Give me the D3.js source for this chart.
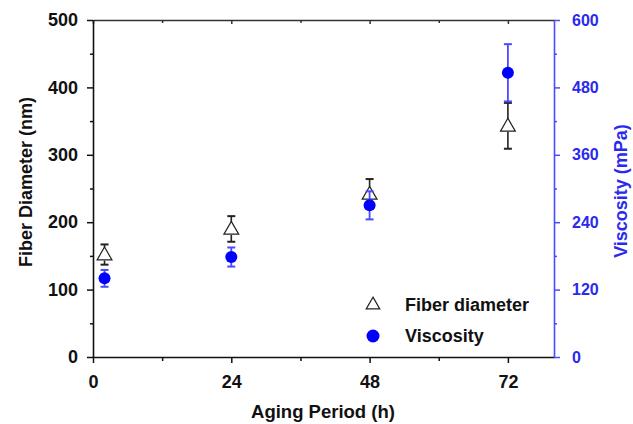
<!DOCTYPE html>
<html>
<head>
<meta charset="utf-8">
<script src="https://cdn.jsdelivr.net/npm/d3@7"></script>
<style>
  body { margin: 0; background: #fff; }
  svg text { font-family: "Liberation Sans", Arial, sans-serif; font-weight: bold; }
</style>
</head>
<body>
<div id="chart"></div>
<script>
// values
const hours = [2, 24, 48, 72];
const diameter = [152, 190, 242, 343];
const diameterErr = [15, 19, 22, 34];
const viscosity = [140, 178, 270, 506];
const viscosityErr = [15, 17, 25, 51];

const xTicks = [0, 24, 48, 72];
const xMinor = [12, 36, 60];
const leftTicks = [0, 100, 200, 300, 400, 500];
const leftMinor = [50, 150, 250, 350, 450];
const rightTicks = [0, 120, 240, 360, 480, 600];
const rightMinor = [60, 180, 300, 420, 540];

const width = 633;
const height = 424;
const margin = { top: 20, right: 79, bottom: 67, left: 93 };
const blue = "#0000ff";
const axisBlue = "#4a4aff";

const svg = d3
  .select("#chart")
  .append("svg")
  .attr("width", width)
  .attr("height", height);

const x = d3.scaleLinear().domain([0, 80]).range([margin.left, width - margin.right]);
const yL = d3.scaleLinear().domain([0, 500]).range([height - margin.bottom, margin.top]);
const yR = d3.scaleLinear().domain([0, 600]).range([height - margin.bottom, margin.top]);

const x0 = margin.left;
const x1 = width - margin.right;
const y0 = height - margin.bottom;
const y1 = margin.top;

function styleAxis(g, color) {
  g.selectAll("line").attr("stroke", color).attr("stroke-width", 1.5);
  g.selectAll("path").attr("stroke", color).attr("stroke-width", 1.6);
  g.selectAll("text").attr("fill", color).style("font-size", "18px");
}

// top frame line with inward ticks
svg.append("g")
  .attr("transform", `translate(0,${y1})`)
  .call(d3.axisBottom(x).tickValues(xTicks).tickSize(4).tickFormat("").tickSizeOuter(0))
  .call((g) => styleAxis(g, "#333"));
svg.append("g")
  .attr("transform", `translate(0,${y1})`)
  .call(d3.axisBottom(x).tickValues(xMinor).tickSize(3).tickFormat(""))
  .call((g) => g.select(".domain").remove())
  .call((g) => styleAxis(g, "#333"));

// bottom axis
svg.append("g")
  .attr("transform", `translate(0,${y0})`)
  .call(d3.axisBottom(x).tickValues(xTicks).tickSize(6).tickPadding(12).tickSizeOuter(0))
  .call((g) => styleAxis(g, "#111"));
svg.append("g")
  .attr("transform", `translate(0,${y0})`)
  .call(d3.axisBottom(x).tickValues(xMinor).tickSize(4).tickFormat(""))
  .call((g) => g.select(".domain").remove())
  .call((g) => styleAxis(g, "#111"));

// left axis
svg.append("g")
  .attr("transform", `translate(${x0},0)`)
  .call(d3.axisLeft(yL).tickValues(leftTicks).tickSize(6).tickPadding(9).tickSizeOuter(0))
  .call((g) => styleAxis(g, "#111"));
svg.append("g")
  .attr("transform", `translate(${x0},0)`)
  .call(d3.axisLeft(yL).tickValues(leftMinor).tickSize(3).tickFormat(""))
  .call((g) => g.select(".domain").remove())
  .call((g) => styleAxis(g, "#111"));

// right axis
svg.append("g")
  .attr("transform", `translate(${x1},0)`)
  .call(d3.axisRight(yR).tickValues(rightTicks).tickSize(6).tickPadding(12).tickSizeOuter(0))
  .call((g) => styleAxis(g, axisBlue))
  .call((g) => g.selectAll("text").attr("fill", "#2a2aee").style("font-size", "16px"));
svg.append("g")
  .attr("transform", `translate(${x1},0)`)
  .call(d3.axisRight(yR).tickValues(rightMinor).tickSize(3).tickFormat(""))
  .call((g) => g.select(".domain").remove())
  .call((g) => styleAxis(g, axisBlue));

// axis titles
svg.append("text")
  .attr("transform", "translate(32,182) rotate(-90)")
  .attr("text-anchor", "middle")
  .style("font-size", "18px")
  .attr("fill", "#111")
  .text("Fiber Diameter (nm)");

svg.append("text")
  .attr("transform", "translate(627,191) rotate(-90)")
  .attr("text-anchor", "middle")
  .style("font-size", "18px")
  .attr("fill", "#2a2aee")
  .text("Viscosity (mPa)");

svg.append("text")
  .attr("x", 323)
  .attr("y", 418)
  .attr("text-anchor", "middle")
  .style("font-size", "18.5px")
  .attr("fill", "#111")
  .text("Aging Period (h)");

const tri = d3.symbol().type(d3.symbolTriangle);
const capW = 4;

// fiber diameter: error bars drawn outside the triangle
const fiber = svg.append("g");
hours.forEach((h, i) => {
  const cx = x(h);
  const cy = yL(diameter[i]);
  const top = yL(diameter[i] + diameterErr[i]);
  const bot = yL(diameter[i] - diameterErr[i]);
  const g = fiber.append("g").attr("stroke", "#222").attr("stroke-width", 1.6);
  g.append("line").attr("x1", cx).attr("x2", cx).attr("y1", top).attr("y2", cy - 7);
  g.append("line").attr("x1", cx).attr("x2", cx).attr("y1", cy + 6).attr("y2", bot);
  g.append("line").attr("x1", cx - capW).attr("x2", cx + capW).attr("y1", top).attr("y2", top).attr("stroke-width", 2);
  g.append("line").attr("x1", cx - capW).attr("x2", cx + capW).attr("y1", bot).attr("y2", bot).attr("stroke-width", 2);
  fiber.append("path")
    .attr("d", tri.size(95)())
    .attr("transform", `translate(${cx},${cy + 1})`)
    .attr("fill", "#fff")
    .attr("stroke", "#222")
    .attr("stroke-width", 1.2);
});

// viscosity
const visc = svg.append("g");
hours.forEach((h, i) => {
  const cx = x(h);
  const top = yR(viscosity[i] + viscosityErr[i]);
  const bot = yR(viscosity[i] - viscosityErr[i]);
  const g = visc.append("g").attr("stroke", axisBlue).attr("stroke-width", 1.8);
  g.append("line").attr("x1", cx).attr("x2", cx).attr("y1", top).attr("y2", bot);
  g.append("line").attr("x1", cx - capW).attr("x2", cx + capW).attr("y1", top).attr("y2", top).attr("stroke-width", 2);
  g.append("line").attr("x1", cx - capW).attr("x2", cx + capW).attr("y1", bot).attr("y2", bot).attr("stroke-width", 2);
  visc.append("circle")
    .attr("cx", cx)
    .attr("cy", yR(viscosity[i]))
    .attr("r", 6)
    .attr("fill", blue);
});

// legend
const legend = svg.append("g");
legend.append("path")
  .attr("d", tri.size(80)())
  .attr("transform", "translate(373,305)")
  .attr("fill", "#fff")
  .attr("stroke", "#222")
  .attr("stroke-width", 1.2);
legend.append("text")
  .attr("x", 405).attr("y", 311)
  .style("font-size", "18px")
  .attr("fill", "#111")
  .text("Fiber diameter");
legend.append("circle")
  .attr("cx", 373).attr("cy", 336).attr("r", 6.5)
  .attr("fill", blue);
legend.append("text")
  .attr("x", 405).attr("y", 342)
  .style("font-size", "18px")
  .attr("fill", "#111")
  .text("Viscosity");
</script>
</body>
</html>
